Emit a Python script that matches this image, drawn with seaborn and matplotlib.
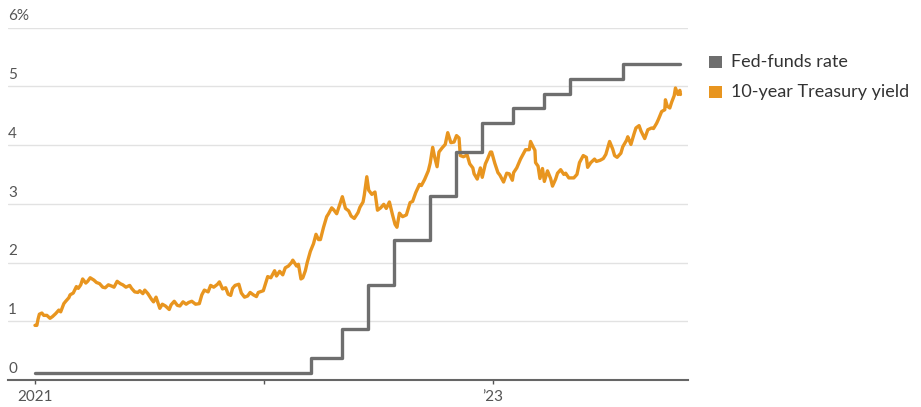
import matplotlib
matplotlib.use("Agg")
import matplotlib.pyplot as plt
import matplotlib.transforms as mtransforms
from matplotlib.patches import Rectangle
import seaborn as sns
import pandas as pd

sns.set_theme(style="white")
plt.rcParams["font.family"] = ["Lato", "DejaVu Sans"]

# 10-year Treasury yield, %
yield_dates = [
    "2021-01-01", "2021-01-04", "2021-01-06", "2021-01-08", "2021-01-12", "2021-01-15",
    "2021-01-20", "2021-01-25", "2021-01-29", "2021-02-03", "2021-02-08", "2021-02-11",
    "2021-02-16", "2021-02-19", "2021-02-24", "2021-02-26", "2021-03-03", "2021-03-08",
    "2021-03-11", "2021-03-15", "2021-03-18", "2021-03-23", "2021-03-26", "2021-03-30",
    "2021-04-05", "2021-04-09", "2021-04-14", "2021-04-19", "2021-04-23", "2021-04-28",
    "2021-05-03", "2021-05-07", "2021-05-12", "2021-05-17", "2021-05-21", "2021-05-26",
    "2021-06-01", "2021-06-04", "2021-06-09", "2021-06-14", "2021-06-17", "2021-06-22",
    "2021-06-25", "2021-06-30", "2021-07-06", "2021-07-09", "2021-07-13", "2021-07-19",
    "2021-07-23", "2021-07-28", "2021-08-03", "2021-08-06", "2021-08-11", "2021-08-16",
    "2021-08-20", "2021-08-25", "2021-08-30", "2021-09-03", "2021-09-08", "2021-09-14",
    "2021-09-20", "2021-09-24", "2021-09-28", "2021-10-04", "2021-10-08", "2021-10-13",
    "2021-10-19", "2021-10-22", "2021-10-27", "2021-11-01", "2021-11-05", "2021-11-09",
    "2021-11-12", "2021-11-16", "2021-11-22", "2021-11-26", "2021-12-01", "2021-12-06",
    "2021-12-10", "2021-12-15", "2021-12-20", "2021-12-23", "2021-12-28", "2021-12-31",
    "2022-01-04", "2022-01-07", "2022-01-12", "2022-01-18", "2022-01-21", "2022-01-26",
    "2022-01-31", "2022-02-04", "2022-02-09", "2022-02-14", "2022-02-16", "2022-02-22",
    "2022-02-25", "2022-03-01", "2022-03-04", "2022-03-08", "2022-03-11", "2022-03-16",
    "2022-03-21", "2022-03-25", "2022-03-29", "2022-04-01", "2022-04-06", "2022-04-11",
    "2022-04-14", "2022-04-19", "2022-04-22", "2022-04-27", "2022-05-02", "2022-05-06",
    "2022-05-11", "2022-05-16", "2022-05-20", "2022-05-25", "2022-05-31", "2022-06-03",
    "2022-06-08", "2022-06-10", "2022-06-14", "2022-06-17", "2022-06-22", "2022-06-27",
    "2022-07-01", "2022-07-06", "2022-07-11", "2022-07-15", "2022-07-20", "2022-07-25",
    "2022-07-29", "2022-08-01", "2022-08-05", "2022-08-10", "2022-08-16", "2022-08-22",
    "2022-08-26", "2022-08-31", "2022-09-06", "2022-09-09", "2022-09-14", "2022-09-20",
    "2022-09-23", "2022-09-27", "2022-09-30", "2022-10-04", "2022-10-07", "2022-10-12",
    "2022-10-17", "2022-10-21", "2022-10-26", "2022-10-31", "2022-11-04", "2022-11-08",
    "2022-11-10", "2022-11-15", "2022-11-21", "2022-11-25", "2022-11-30", "2022-12-02",
    "2022-12-07", "2022-12-12", "2022-12-15", "2022-12-20", "2022-12-23", "2022-12-28",
    "2022-12-30", "2023-01-04", "2023-01-09", "2023-01-12", "2023-01-18", "2023-01-23",
    "2023-01-27", "2023-02-01", "2023-02-03", "2023-02-08", "2023-02-14", "2023-02-17",
    "2023-02-22", "2023-02-28", "2023-03-02", "2023-03-06", "2023-03-09", "2023-03-10",
    "2023-03-14", "2023-03-17", "2023-03-21", "2023-03-24", "2023-03-29", "2023-04-03",
    "2023-04-06", "2023-04-11", "2023-04-14", "2023-04-19", "2023-04-24", "2023-04-27",
    "2023-05-02", "2023-05-05", "2023-05-10", "2023-05-15", "2023-05-19", "2023-05-25",
    "2023-05-30", "2023-06-01", "2023-06-06", "2023-06-12", "2023-06-15", "2023-06-21",
    "2023-06-26", "2023-06-30", "2023-07-06", "2023-07-11", "2023-07-14", "2023-07-18",
    "2023-07-24", "2023-07-27", "2023-08-02", "2023-08-04", "2023-08-09", "2023-08-14",
    "2023-08-17", "2023-08-22", "2023-08-25", "2023-08-31", "2023-09-05", "2023-09-11",
    "2023-09-14", "2023-09-19", "2023-09-22", "2023-09-27", "2023-10-02", "2023-10-03",
    "2023-10-06", "2023-10-10", "2023-10-13", "2023-10-17", "2023-10-19", "2023-10-23",
    "2023-10-26", "2023-10-27",
]
yield_values = [
    0.93, 0.93, 1.04, 1.12, 1.14, 1.10,
    1.10, 1.05, 1.08, 1.13, 1.19, 1.16,
    1.30, 1.34, 1.40, 1.45, 1.48, 1.59,
    1.56, 1.62, 1.72, 1.65, 1.68, 1.74,
    1.70, 1.66, 1.64, 1.58, 1.57, 1.62,
    1.60, 1.58, 1.68, 1.64, 1.62, 1.58,
    1.61, 1.56, 1.50, 1.49, 1.52, 1.47,
    1.53, 1.47, 1.37, 1.33, 1.41, 1.22,
    1.29, 1.26, 1.20, 1.28, 1.34, 1.27,
    1.26, 1.33, 1.29, 1.32, 1.34, 1.29,
    1.30, 1.45, 1.53, 1.50, 1.61, 1.58,
    1.63, 1.67, 1.55, 1.57, 1.46, 1.44,
    1.56, 1.61, 1.63, 1.48, 1.41, 1.43,
    1.49, 1.45, 1.42, 1.49, 1.51, 1.52,
    1.66, 1.76, 1.74, 1.86, 1.77, 1.85,
    1.79, 1.91, 1.94, 2.00, 2.04, 1.94,
    1.97, 1.72, 1.74, 1.86, 2.00, 2.19,
    2.32, 2.48, 2.39, 2.39, 2.60, 2.78,
    2.83, 2.93, 2.90, 2.83, 2.99, 3.12,
    2.92, 2.88, 2.79, 2.75, 2.85, 2.94,
    3.03, 3.15, 3.46, 3.23, 3.16, 3.20,
    2.89, 2.93, 2.99, 2.92, 3.03, 2.81,
    2.65, 2.60, 2.84, 2.78, 2.81, 3.02,
    3.04, 3.19, 3.33, 3.31, 3.41, 3.56,
    3.69, 3.96, 3.80, 3.63, 3.88, 3.95,
    4.01, 4.21, 4.04, 4.05, 4.16, 4.12,
    3.82, 3.80, 3.83, 3.68, 3.61, 3.51,
    3.42, 3.61, 3.45, 3.68, 3.75, 3.88,
    3.88, 3.69, 3.53, 3.49, 3.37, 3.52,
    3.51, 3.40, 3.53, 3.61, 3.76, 3.82,
    3.92, 3.92, 4.06, 3.97, 3.91, 3.70,
    3.64, 3.43, 3.60, 3.38, 3.56, 3.43,
    3.30, 3.42, 3.52, 3.58, 3.50, 3.52,
    3.44, 3.44, 3.44, 3.50, 3.70, 3.82,
    3.79, 3.62, 3.70, 3.76, 3.72, 3.74,
    3.77, 3.84, 4.06, 3.93, 3.82, 3.79,
    3.86, 3.97, 4.08, 4.14, 4.01, 4.19,
    4.29, 4.33, 4.24, 4.11, 4.26, 4.29,
    4.28, 4.37, 4.44, 4.57, 4.60, 4.77,
    4.66, 4.63, 4.73, 4.84, 4.97, 4.86,
    4.93, 4.86,
]

# Fed-funds target range midpoint, %
fed_dates = [
    "2021-01-01", "2022-03-17", "2022-05-05", "2022-06-16", "2022-07-28",
    "2022-09-22", "2022-11-03", "2022-12-15", "2023-02-02", "2023-03-23",
    "2023-05-04", "2023-07-27", "2023-10-27",
]
fed_values = [
    0.125, 0.375, 0.875, 1.625, 2.375,
    3.125, 3.875, 4.375, 4.625, 4.875,
    5.125, 5.375, 5.375,
]

y_ticks = [0, 1, 2, 3, 4, 5, 6]
y_labels = ["0", "1", "2", "3", "4", "5", "6%"]
x_ticks = ["2021-01-01", "2022-01-01", "2023-01-01"]
x_labels = ["2021", "", "\u201923"]
legend_labels = ["Fed-funds rate", "10-year Treasury yield"]

GRAY = "#6e6e6e"
ORANGE = "#e8951f"
TEXT = "#555555"

yields = pd.DataFrame({"date": pd.to_datetime(yield_dates), "value": yield_values})
fed = pd.DataFrame({"date": pd.to_datetime(fed_dates), "value": fed_values})

W, H = 921, 407
fig = plt.figure(figsize=(W / 100, H / 100), dpi=100)
ax = fig.add_axes([8 / W, 1 - 380 / H, 680 / W, 352.5 / H])

for v in y_ticks[1:]:
    ax.axhline(v, color="#e2e2e2", lw=1.0, zorder=0)

sns.lineplot(data=yields, x="date", y="value", ax=ax, color=ORANGE, lw=2.4,
             zorder=2)
sns.lineplot(data=fed, x="date", y="value", ax=ax, color=GRAY, lw=2.4,
             drawstyle="steps-post", zorder=3)

ax.set_xlim(pd.Timestamp("2020-11-19"), pd.Timestamp("2023-11-08"))
ax.set_ylim(0, 6)
ax.set_xlabel("")
ax.set_ylabel("")
ax.set_yticks([])
ax.set_xticks(pd.to_datetime(x_ticks))
ax.set_xticklabels(x_labels, fontsize=11, color=TEXT)
ax.tick_params(axis="x", length=3, width=1, color="#555555", pad=4,
               bottom=True, direction="out")

for s in ["top", "right", "left"]:
    ax.spines[s].set_visible(False)
ax.spines["bottom"].set_color("#666666")
ax.spines["bottom"].set_linewidth(1.5)

trans = mtransforms.blended_transform_factory(ax.transAxes, ax.transData)
for v, lab in zip(y_ticks, y_labels):
    ax.annotate(lab, xy=(0, v), xycoords=trans, xytext=(0, 3),
                textcoords="offset points", ha="left", va="bottom",
                fontsize=11, color=TEXT)

# legend: square swatches with labels to the right of the plot
for (cy, col, lab) in [(62, GRAY, legend_labels[0]), (92, ORANGE, legend_labels[1])]:
    fig.patches.append(Rectangle(((715 - 6.5) / W, 1 - (cy + 6) / H), 13 / W, 12 / H,
                                 transform=fig.transFigure, color=col, lw=0))
    fig.text(731 / W, 1 - cy / H, lab, ha="left", va="center",
             fontsize=13, color="#333333")

fig.savefig("out.png", dpi=100)
